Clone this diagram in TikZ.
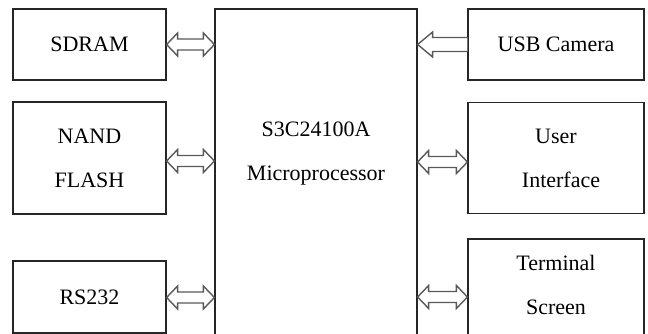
\documentclass[tikz,border=0pt]{standalone}
\usepackage{fontspec}
\setmainfont{Liberation Serif}
\usetikzlibrary{calc}
\tikzset{
  box/.style={draw=black!85, line width=1.2pt, inner sep=0pt, font=\fontsize{22}{44}\selectfont, align=center, text=black},
  lbl/.style={font=\fontsize{22}{44}\selectfont, align=center, text=black, inner sep=0pt},
  arr/.style={draw=black!65, line width=1.4pt, fill=white, line join=miter},
}
\newcommand\dblarrow[2]{%
  \draw[arr] let \p1=(#1), \p2=(#2) in
  (\x1,\y1) -- (\x1+11pt,\y1+11.5pt) -- (\x1+11pt,\y1+5.5pt) -- (\x2-11pt,\y1+5.5pt)
  -- (\x2-11pt,\y1+11.5pt) -- (\x2,\y1) -- (\x2-11pt,\y1-11.5pt) -- (\x2-11pt,\y1-5.5pt)
  -- (\x1+11pt,\y1-5.5pt) -- (\x1+11pt,\y1-11.5pt) -- cycle;}
\newcommand\leftblockarrow[2]{%
  \draw[arr] let \p1=(#1), \p2=(#2) in
  (\x2,\y1+7pt) -- (\x1+15pt,\y1+7pt) -- (\x1+15pt,\y1+12.5pt) -- (\x1,\y1)
  -- (\x1+15pt,\y1-12.5pt) -- (\x1+15pt,\y1-7pt) -- (\x2,\y1-7pt);}
\begin{document}
\begin{tikzpicture}[x=1pt,y=-1pt]
  \fill[white] (0,0) rectangle (648,334);
  \useasboundingbox (0,0) rectangle (648,334);
  \clip (0,0) rectangle (648,334);
  % left column
  \node[box, minimum width=153pt, minimum height=71pt] (sdram) at (89.5,44.5) {SDRAM};
  \node[box, minimum width=153pt, minimum height=112pt] (nand) at (89.5,158) {NAND\\FLASH};
  \node[box, minimum width=153pt, minimum height=72pt] (rs232) at (89.5,297) {RS232};
  % centre
  \node[box, minimum width=202pt, minimum height=351pt] (cpu) at (316,184.5) {};
  \node[lbl] (cputext) at (316,153.5) {S3C24100A\\Microprocessor};
  % right column
  \node[box, minimum width=176pt, minimum height=71pt] (usb) at (556,44.5) {USB Camera};
  \node[box, minimum width=176pt, minimum height=111pt] (ui) at (556,158) {User\\\hspace*{10pt}Interface};
  \node[box, minimum width=176pt, minimum height=116pt] (term) at (556,297) {};
  \node[lbl] (termtext) at (556,285) {Terminal\\Screen};
  % connectors
  \dblarrow{sdram.east}{cpu.west}
  \dblarrow{$(nand.east)+(0,3)$}{cpu.west}
  \dblarrow{$(rs232.east)+(0,0.5)$}{cpu.west}
  \leftblockarrow{usb.west -| cpu.east}{usb.west}
  \dblarrow{$(ui.west -| cpu.east)+(0,4)$}{ui.west}
  \dblarrow{term.west -| cpu.east}{term.west}
\end{tikzpicture}
\end{document}
